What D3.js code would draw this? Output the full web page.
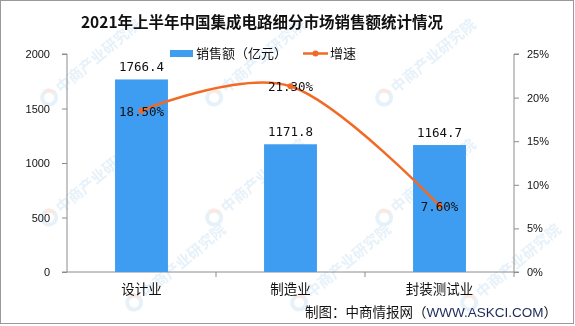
<!DOCTYPE html>
<html>
<head>
<meta charset="utf-8">
<script src="https://cdn.jsdelivr.net/npm/d3@7"></script>
<style>
  body { margin: 0; background: #fff; }
  svg { display: block; font-family: "Noto Sans CJK SC", sans-serif; }
  .axis path, .axis line { stroke: #8c8c8c; }
  .axis text { font-family: "Liberation Sans", sans-serif; font-size: 11px; fill: #111; }
  .axis.x text { font-family: "Noto Sans CJK SC", sans-serif; font-size: 13.5px; }
  .num { font-family: "DejaVu Sans Mono", monospace; font-size: 12.5px; fill: #111; }
</style>
</head>
<body>
<div id="chart"></div>
<script>
// data
var categories = ["设计业", "制造业", "封装测试业"];
var sales = [1766.4, 1171.8, 1164.7];
var growth = [18.5, 21.3, 7.6];
var leftTicks = [0, 500, 1000, 1500, 2000];
var rightTicks = [0, 5, 10, 15, 20, 25];

var width = 575, height = 326;
var margin = {left: 67, right: 61, top: 54, bottom: 54};

var svg = d3.select("#chart").append("svg")
    .attr("width", width)
    .attr("height", height);

svg.append("rect")
  .attr("x", 0.5).attr("y", 0.5)
  .attr("width", width - 2).attr("height", height - 3)
  .attr("fill", "#fff")
  .attr("stroke", "#9a9a9a");

// faint watermark
var wm = svg.append("g").attr("class", "watermark").attr("opacity", 0.55);
[[60, 95], [225, 95], [395, 95], [60, 215], [225, 215], [395, 215], [145, 300], [310, 300], [480, 300]]
  .forEach(function(p) {
  var g = wm.append("g").attr("transform", "translate(" + p[0] + "," + p[1] + ") rotate(-40)");
  g.append("circle").attr("cx", -10).attr("cy", -5).attr("r", 7)
    .attr("fill", "none").attr("stroke", "#d3e6f5").attr("stroke-width", 4);
  g.append("path").attr("d", "M-10,-12 A7,7 0 0,1 -3,-5")
    .attr("fill", "none").attr("stroke", "#f6d8cc").attr("stroke-width", 4);
  g.append("text").attr("x", 2).attr("y", 0)
    .attr("font-size", 15).attr("font-weight", "bold")
    .attr("fill", "#d3e6f5")
    .text("中商产业研究院");
});

var x = d3.scaleBand()
    .domain(categories)
    .range([margin.left, width - margin.right])
    .paddingInner(0.645)
    .paddingOuter(0.3225);

var y = d3.scaleLinear().domain([0, 2000]).range([height - margin.bottom, margin.top]);
var y2 = d3.scaleLinear().domain([0, 25]).range([height - margin.bottom, margin.top]);

// title
svg.append("text")
  .attr("x", 262).attr("y", 28)
  .attr("text-anchor", "middle")
  .attr("font-size", 15.5).attr("font-weight", "bold")
  .attr("fill", "#111")
  .text("2021年上半年中国集成电路细分市场销售额统计情况");

// axes
svg.append("g").attr("class", "axis")
  .attr("transform", "translate(" + margin.left + ",0)")
  .call(d3.axisLeft(y).tickValues(leftTicks).tickSize(5).tickPadding(12).tickFormat(d3.format("d")))
  .call(function(g) { g.select(".domain").attr("d", "M-5," + y(2000) + "H0V" + y(0) + "H-5"); });

svg.append("g").attr("class", "axis")
  .attr("transform", "translate(" + (width - margin.right) + ",0)")
  .call(d3.axisRight(y2).tickValues(rightTicks).tickSize(5).tickPadding(8)
        .tickFormat(function(d) { return d + "%"; }))
  .call(function(g) { g.select(".domain").attr("d", "M5," + y2(25) + "H0V" + y2(0) + "H5"); });

var xAxis = svg.append("g").attr("class", "axis x")
  .attr("transform", "translate(0," + (height - margin.bottom) + ")")
  .call(d3.axisBottom(x).tickSize(0).tickPadding(12));
xAxis.select(".domain").attr("d", "M" + margin.left + ",0H" + (width - margin.right));
// boundary ticks between categories
var step = x.step();
d3.range(1, categories.length + 1).forEach(function(i) {
  var bx = margin.left + step * i;
  xAxis.append("line").attr("x1", bx).attr("x2", bx).attr("y1", 0).attr("y2", 5)
    .attr("stroke", "#8c8c8c");
});

// bars
svg.append("g").selectAll("rect")
  .data(sales)
  .enter().append("rect")
  .attr("x", function(d, i) { return x(categories[i]); })
  .attr("y", function(d) { return y(d); })
  .attr("width", x.bandwidth())
  .attr("height", function(d) { return y(0) - y(d); })
  .attr("fill", "#3e9cf1");

svg.append("g").selectAll("text")
  .data(sales)
  .enter().append("text")
  .attr("class", "num")
  .attr("x", function(d, i) { return x(categories[i]) + x.bandwidth() / 2; })
  .attr("y", function(d) { return y(d) - 8; })
  .attr("text-anchor", "middle")
  .text(function(d) { return d.toFixed(1); });

// line
var cx = function(i) { return x(categories[i]) + x.bandwidth() / 2; };
var line = d3.line()
  .x(function(d, i) { return cx(i); })
  .y(function(d) { return y2(d); })
  .curve(d3.curveCardinal.tension(0));

svg.append("path")
  .datum(growth)
  .attr("d", line)
  .attr("fill", "none")
  .attr("stroke", "#f26a24")
  .attr("stroke-width", 2.5);

svg.append("g").selectAll("circle")
  .data(growth)
  .enter().append("circle")
  .attr("cx", function(d, i) { return cx(i); })
  .attr("cy", function(d) { return y2(d); })
  .attr("r", 3)
  .attr("fill", "#f26a24");

svg.append("g").selectAll("text")
  .data(growth)
  .enter().append("text")
  .attr("class", "num")
  .attr("x", function(d, i) { return cx(i); })
  .attr("y", function(d) { return y2(d) + 5; })
  .attr("text-anchor", "middle")
  .text(function(d) { return d.toFixed(2) + "%"; });

// legend
var leg = svg.append("g");
leg.append("rect").attr("x", 170).attr("y", 50).attr("width", 23).attr("height", 7).attr("fill", "#3e9cf1");
leg.append("text").attr("x", 196).attr("y", 58).attr("font-size", 13).attr("fill", "#111").text("销售额（亿元）");
leg.append("line").attr("x1", 303).attr("x2", 328).attr("y1", 53.5).attr("y2", 53.5)
  .attr("stroke", "#f26a24").attr("stroke-width", 2.5);
leg.append("circle").attr("cx", 315.5).attr("cy", 53.5).attr("r", 3).attr("fill", "#f26a24");
leg.append("text").attr("x", 330).attr("y", 58).attr("font-size", 13).attr("fill", "#111").text("增速");

// source
var src = svg.append("text")
  .attr("x", 557).attr("y", 317)
  .attr("text-anchor", "end")
  .attr("font-size", 13.5)
  .attr("fill", "#111");
src.append("tspan").text("制图：中商情报网（");
src.append("tspan").attr("fill", "#1c2a5a").attr("font-family", "Liberation Sans, sans-serif").text("WWW.ASKCI.COM");
src.append("tspan").text("）");
</script>
</body>
</html>
